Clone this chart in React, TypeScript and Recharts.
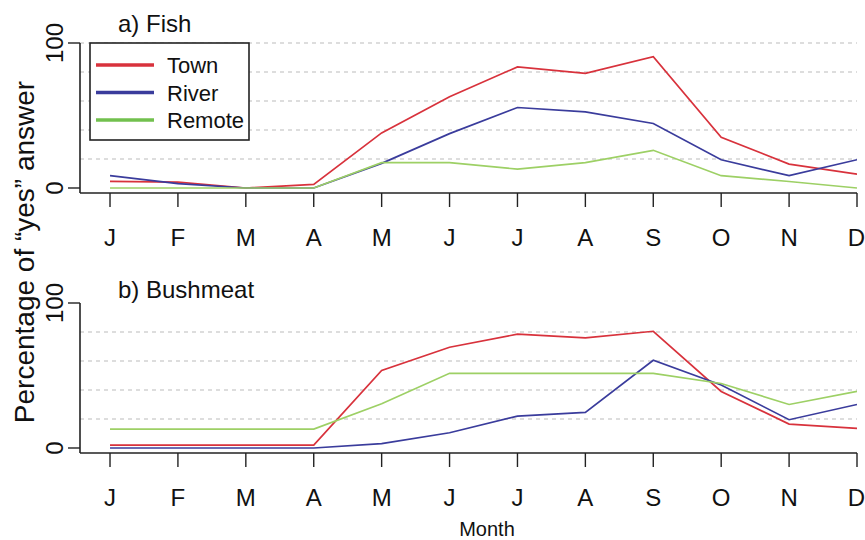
import React from "react";
import { LineChart, Line, XAxis, YAxis, ReferenceLine, Legend } from "recharts";

const months = ["J", "F", "M", "A", "M", "J", "J", "A", "S", "O", "N", "D"];

const fishTown = [4.5, 4, 0, 2.5, 38, 63, 83.5, 79, 90.5, 35, 16.5, 9.5];
const fishRiver = [8.5, 3, 0, 0, 17, 37.5, 55.5, 52.5, 44.5, 19.5, 8.5, 19.5];
const fishRemote = [0, 0, 0, 0, 17.5, 17.5, 13, 17.5, 26, 8.5, 4.5, 0];

const meatTown = [2, 2, 2, 2, 53.5, 69.5, 78.5, 76, 80.5, 39, 16.5, 13.5];
const meatRiver = [0, 0, 0, 0, 3, 10.5, 22, 24.5, 60.5, 43.5, 19.5, 30];
const meatRemote = [13, 13, 13, 13, 30.5, 51.5, 51.5, 51.5, 51.5, 44.5, 30, 39];

const fishGrid = [20, 40, 60, 80, 100];
const meatGrid = [20, 40, 60, 80];
const yTicks = [0, 100];
const xTicks = months.map((_, i) => i);

const seriesNames = ["Town", "River", "Remote"];

const FONT = "'Liberation Sans', Arial, Helvetica, sans-serif";
const RED = "#d8323c";
const BLUE = "#3a3c9c";
const GREEN = "#9dd065";
const AXIS = "#222";

const colors: Record<string, string> = { Town: RED, River: BLUE, Remote: GREEN };
const legendColors: Record<string, string> = { Town: RED, River: BLUE, Remote: "#72c04e" };

const buildRows = (town: number[], river: number[], remote: number[]) =>
  months.map((m, i) => ({ idx: i, month: m, Town: town[i], River: river[i], Remote: remote[i] }));

// R-style rotated y tick labels
const YTick = (props: any) => {
  const { x, y, payload } = props;
  const bx = x - 5;
  return (
    <text
      x={bx}
      y={y}
      transform={`rotate(-90, ${bx}, ${y})`}
      textAnchor="middle"
      fontSize={24}
      fontFamily={FONT}
      fill="#111"
    >
      {payload.value}
    </text>
  );
};

const LegendBox = () => (
  <svg width={162} height={100}>
    <rect x={1} y={1} width={159} height={97} fill="#fff" stroke={AXIS} strokeWidth={1.6} />
    {seriesNames.map((name, i) => {
      const cy = 23 + i * 27.5;
      return (
        <g key={name}>
          <line x1={7} x2={65} y1={cy} y2={cy} stroke={legendColors[name]} strokeWidth={3.5} />
          <text x={78} y={cy + 8} fontSize={22} fontFamily={FONT} fill="#111">
            {name}
          </text>
        </g>
      );
    })}
  </svg>
);

type PanelProps = {
  rows: any[];
  grid: number[];
  top: number;
  marginTop: number;
  axisHeight: number;
  height: number;
  legend?: boolean;
};

const Panel = ({ rows, grid, top, marginTop, axisHeight, height, legend }: PanelProps) => (
  <div style={{ position: "absolute", left: 0, top }}>
    <LineChart
      width={865}
      height={height}
      data={rows}
      margin={{ top: marginTop, right: 8, left: 50, bottom: 0 }}
    >
      <XAxis
        dataKey="idx"
        type="number"
        domain={[-0.442, 11]}
        ticks={xTicks}
        tickFormatter={(v: number) => months[v]}
        height={axisHeight}
        tickSize={14}
        tickMargin={22}
        tick={{ fontSize: 24, fill: "#111", fontFamily: FONT }}
        axisLine={{ stroke: AXIS, strokeWidth: 1.6 }}
        tickLine={{ stroke: AXIS, strokeWidth: 1.4 }}
        allowDataOverflow
      />
      <YAxis
        type="number"
        domain={[-3.45, 100]}
        ticks={yTicks}
        width={30}
        tickSize={12}
        tickMargin={0}
        tick={<YTick />}
        axisLine={{ stroke: AXIS, strokeWidth: 1.6 }}
        tickLine={{ stroke: AXIS, strokeWidth: 1.4 }}
        allowDataOverflow
      />
      {grid.map((g) => (
        <ReferenceLine key={g} y={g} stroke="#bbbbbb" strokeDasharray="4 4" strokeWidth={1.2} />
      ))}
      {seriesNames.map((name) => (
        <Line
          key={name}
          type="linear"
          dataKey={name}
          stroke={colors[name]}
          strokeWidth={1.7}
          dot={false}
          isAnimationActive={false}
        />
      ))}
      {legend && (
        <Legend
          layout="vertical"
          align="center"
          verticalAlign="middle"
          content={() => <LegendBox />}
          wrapperStyle={{ left: 89, top: 42, width: 162, height: 100 }}
        />
      )}
    </LineChart>
  </div>
);

export default function App() {
  const fishRows = buildRows(fishTown, fishRiver, fishRemote);
  const meatRows = buildRows(meatTown, meatRiver, meatRemote);
  return (
    <div
      style={{
        position: "absolute",
        left: 0,
        top: 0,
        width: 865,
        height: 540,
        background: "#fff",
        fontFamily: FONT,
        overflow: "hidden",
      }}
    >
      <Panel rows={fishRows} grid={fishGrid} top={0} marginTop={43} axisHeight={67} height={260} legend />
      <Panel rows={meatRows} grid={meatGrid} top={270} marginTop={33} axisHeight={77} height={260} />
      <svg width={865} height={540} style={{ position: "absolute", left: 0, top: 0, pointerEvents: "none" }}>
        <text x={118} y={32} fontSize={24} fontFamily={FONT} fill="#111">
          a) Fish
        </text>
        <text x={118} y={298} fontSize={24} fontFamily={FONT} fill="#111">
          b) Bushmeat
        </text>
        <text
          x={34}
          y={252}
          transform="rotate(-90, 34, 252)"
          textAnchor="middle"
          fontSize={28}
          fontFamily={FONT}
          fill="#111"
        >
          Percentage of “yes” answer
        </text>
        <text x={487} y={536} textAnchor="middle" fontSize={20} fontFamily={FONT} fill="#111">
          Month
        </text>
      </svg>
    </div>
  );
}
